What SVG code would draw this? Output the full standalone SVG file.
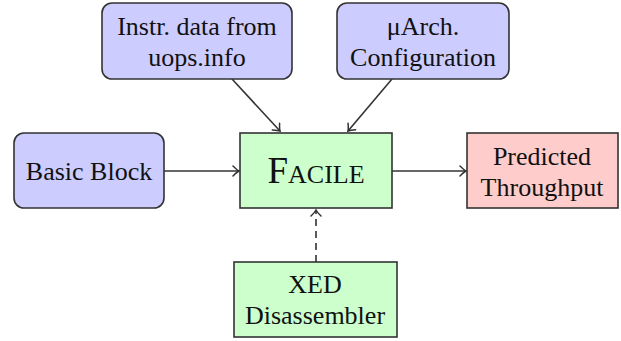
<svg xmlns="http://www.w3.org/2000/svg" width="621" height="341" viewBox="0 0 621 341" font-family="'Liberation Serif', 'DejaVu Serif', serif">
<style>
.box{stroke:#333;stroke-width:1.6}
.blue{fill:#ccccff}
.green{fill:#ccffcc}
.red{fill:#ffcccc}
text{font-family:"Liberation Serif","DejaVu Serif",serif;font-size:26px;fill:#111;text-anchor:middle}
.big{font-size:37px;font-variant:small-caps}
.conn{stroke:#333;stroke-width:1.6;fill:none}
.dash{stroke-dasharray:7,5}
</style>
<defs>
<marker id="arr" viewBox="-8 -6 10 12" refX="0" refY="0" markerWidth="10" markerHeight="12" markerUnits="userSpaceOnUse" orient="auto">
<path d="M-6,-5 Q-2,-1 0,0 Q-2,1 -6,5" fill="none" stroke="#333" stroke-width="1.5" stroke-linecap="round"/>
</marker>
</defs>
<g id="connectors">
<line class="conn" x1="232" y1="79" x2="280" y2="131" marker-end="url(#arr)"/>
<line class="conn" x1="392" y1="79" x2="348" y2="131" marker-end="url(#arr)"/>
<line class="conn" x1="164" y1="171" x2="239" y2="171" marker-end="url(#arr)"/>
<line class="conn" x1="392" y1="171" x2="466" y2="171" marker-end="url(#arr)"/>
<line class="conn dash" x1="316" y1="262" x2="316" y2="210" marker-end="url(#arr)"/>
</g>
<g id="instr">
<rect class="box blue" x="102" y="3" width="190" height="76" rx="10"/>
<text x="197" y="35">Instr. data from</text>
<text x="197" y="66">uops.info</text>
</g>
<g id="uarch">
<rect class="box blue" x="337" y="3" width="172" height="76" rx="10"/>
<text x="423" y="35">μArch.</text>
<text x="423" y="66">Configuration</text>
</g>
<g id="basic">
<rect class="box blue" x="14" y="133" width="150" height="75" rx="10"/>
<text x="89" y="180">Basic Block</text>
</g>
<g id="facile">
<rect class="box green" x="240" y="133" width="152" height="75"/>
<text class="big" x="316" y="183">Facile</text>
</g>
<g id="predicted">
<rect class="box red" x="467" y="133" width="151" height="75"/>
<text x="542" y="165">Predicted</text>
<text x="542" y="196">Throughput</text>
</g>
<g id="xed">
<rect class="box green" x="234" y="262" width="163" height="75"/>
<text x="315" y="293">XED</text>
<text x="315" y="324">Disassembler</text>
</g>
</svg>
